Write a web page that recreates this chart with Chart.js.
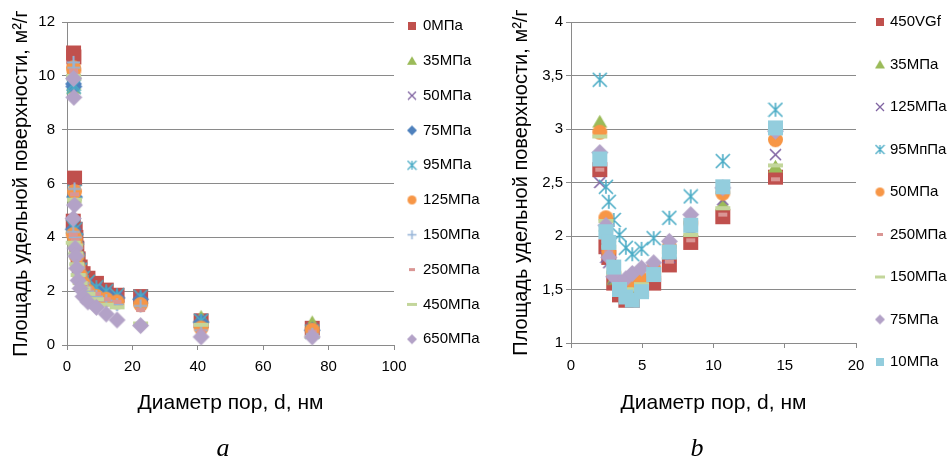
<!DOCTYPE html>
<html>
<head>
<meta charset="utf-8">
<script src="https://cdn.jsdelivr.net/npm/chart.js@4.4.1/dist/chart.umd.min.js"></script>
<style>
  body { margin: 0; background: #fff; width: 951px; height: 458px; overflow: hidden; position: relative; }
  canvas { position: absolute; top: 0; }
  #chartA { left: 0; }
  #chartB { left: 480px; }
  .letter { position: absolute; top: 433px; width: 40px; margin-left: -20px; text-align: center;
            font: italic 26px 'Liberation Serif', 'DejaVu Serif', serif; line-height: 30px; color: #000; }
</style>
</head>
<body>
<canvas id="chartA" width="490" height="458"></canvas>
<canvas id="chartB" width="471" height="458"></canvas>
<div class="letter" style="left:223px">a</div>
<div class="letter" style="left:697px">b</div>
<script>
// ---- рисунок a: данные ----
const diamA = [2.0, 2.1, 2.3, 1.9, 2.5, 2.7, 3.0, 3.4, 4.0, 4.9, 6.4, 9.0, 12.0, 15.3, 22.5, 41, 75];
const namesA = ['0МПа', '35МПа', '50МПа', '75МПа', '95МПа', '125МПа', '150МПа', '250МПа', '450МПа', '650МПа'];
const a0   = [10.85, 10.7, 6.2, 4.6, 4.3, 4.0, 3.6, 3.2, 2.9, 2.65, 2.48, 2.29, 2.04, 1.85, 1.8, 0.9, 0.62];
const a35  = [9.55, 9.7, 5.5, 4.4, 4.1, 3.8, 3.4, 3.0, 2.7, 2.4, 2.2, 2.0, 1.85, 1.7, 1.7, 1.05, 0.85];
const a50  = [9.8, 9.7, 5.6, 4.5, 4.2, 3.9, 3.5, 3.1, 2.8, 2.5, 2.3, 2.1, 1.95, 1.8, 1.75, 0.95, 0.6];
const a75  = [9.7, 9.6, 5.5, 4.3, 4.1, 3.8, 3.4, 3.0, 2.7, 2.4, 2.2, 2.0, 1.9, 1.75, 1.7, 0.85, 0.55];
const a95  = [9.7, 9.6, 5.7, 4.4, 4.3, 3.9, 3.5, 3.1, 2.8, 2.5, 2.35, 2.15, 2.0, 1.85, 1.8, 0.9, 0.5];
const a125 = [10.3, 10.2, 5.7, 4.1, 3.95, 3.7, 3.3, 2.9, 2.6, 2.3, 2.0, 1.8, 1.7, 1.6, 1.5, 0.63, 0.55];
const a150 = [10.5, 10.3, 5.8, 4.2, 4.0, 3.7, 3.3, 2.9, 2.6, 2.3, 2.0, 1.8, 1.65, 1.5, 1.45, 0.55, 0.4];
const a250 = [10.2, 10.1, 5.6, 4.1, 3.9, 3.6, 3.2, 2.8, 2.5, 2.3, 2.1, 1.9, 1.7, 1.6, 1.3, 0.5, 0.5];
const a450 = [10.0, 9.9, 5.4, 3.8, 3.7, 3.4, 3.0, 2.6, 2.3, 2.1, 1.9, 1.7, 1.5, 1.4, 0.8, 0.75, 0.3];
const a650 = [9.9, 9.2, 5.2, 4.7, 3.6, 3.3, 2.85, 2.4, 2.1, 1.8, 1.6, 1.4, 1.15, 0.93, 0.72, 0.3, 0.3];
const xTicksA = ['0', '20', '40', '60', '80', '100'];
const yTicksA = ['0', '2', '4', '6', '8', '10', '12'];

// ---- рисунок b: данные ----
const diamB = [2.02, 2.45, 2.65, 3.0, 3.4, 3.85, 4.3, 4.95, 5.8, 6.9, 8.4, 10.65, 14.35];
const namesB = ['450VGf', '35МПа', '125МПа', '95МпПа', '50МПа', '250МПа', '150МПа', '75МПа', '10МПа'];
const b450v = [2.62, 1.9, 1.8, 1.56, 1.45, 1.4, 1.4, 1.5, 1.56, 1.73, 1.94, 2.18, 2.55];
const b35   = [3.07, 2.1, 2.0, 1.6, 1.55, 1.5, 1.5, 1.55, 1.65, 1.85, 2.05, 2.3, 2.65];
const b125  = [2.5, 1.8, 1.75, 1.6, 1.55, 1.5, 1.5, 1.55, 1.65, 1.8, 2.05, 2.34, 2.76];
const b95   = [3.46, 2.46, 2.32, 2.15, 2.01, 1.89, 1.83, 1.88, 1.98, 2.17, 2.37, 2.7, 3.18];
const b50   = [2.97, 2.17, 1.85, 1.65, 1.55, 1.5, 1.55, 1.6, 1.7, 1.9, 2.12, 2.4, 2.9];
const b250  = [2.62, 1.95, 1.85, 1.6, 1.5, 1.45, 1.45, 1.5, 1.6, 1.76, 1.96, 2.2, 2.53];
const b150  = [2.93, 2.14, 1.9, 1.65, 1.55, 1.5, 1.5, 1.55, 1.65, 1.85, 2.01, 2.26, 2.66];
const b75   = [2.78, 2.1, 1.8, 1.62, 1.58, 1.6, 1.65, 1.7, 1.75, 1.95, 2.2, 2.45, 2.98];
const b10   = [2.72, 2.04, 1.94, 1.71, 1.5, 1.43, 1.4, 1.48, 1.64, 1.85, 2.1, 2.46, 3.01];
const xTicksB = ['0', '5', '10', '15', '20'];
const yTicksB = ['1', '1,5', '2', '2,5', '3', '3,5', '4'];

// ---- стили маркеров (как в Excel) ----
const colorsA = ['#C0504D', '#9BBB59', '#8064A2', '#4F81BD', '#4BACC6', '#F79646', '#95B3D7', '#DA9694', '#C3D69B', '#B3A2C7'];
const shapesA = ['square', 'triangle', 'x', 'diamond', 'star', 'circle', 'plus', 'dash', 'longdash', 'diamond'];
const colorsB = ['#C0504D', '#9BBB59', '#8064A2', '#4BACC6', '#F79646', '#DA9694', '#C3D69B', '#B3A2C7', '#93CDDD'];
const shapesB = ['square', 'triangle', 'x', 'star', 'circle', 'dash', 'longdash', 'diamond', 'square'];

const bigSize = { square: [15], triangle: [15], x: [11], diamond: [17], star: [14], circle: [15], plus: [13], dash: [9, 4], longdash: [15, 4] };
const smallSize = { square: [8], triangle: [10], x: [8], diamond: [10], star: [9], circle: [9], plus: [9], dash: [6, 3], longdash: [10, 3] };

function makeMark(shape, color, w, h) {
  h = h || w;
  const c = document.createElement('canvas');
  c.width = Math.ceil(w) + 2;
  c.height = Math.ceil(h) + 2;
  const g = c.getContext('2d');
  const cx = c.width / 2, cy = c.height / 2, r = w / 2;
  g.fillStyle = color;
  g.strokeStyle = color;
  g.lineWidth = w > 10 ? 1.6 : 1.3;
  g.beginPath();
  if (shape === 'square') {
    g.fillRect(cx - r, cy - r, w, w);
  } else if (shape === 'dash' || shape === 'longdash') {
    g.fillRect(cx - w / 2, cy - h / 2, w, h);
  } else if (shape === 'circle') {
    g.arc(cx, cy, r, 0, Math.PI * 2);
    g.fill();
  } else if (shape === 'triangle') {
    g.moveTo(cx, cy - r * 0.9);
    g.lineTo(cx + r, cy + r * 0.8);
    g.lineTo(cx - r, cy + r * 0.8);
    g.closePath();
    g.fill();
  } else if (shape === 'diamond') {
    g.moveTo(cx, cy - r);
    g.lineTo(cx + r, cy);
    g.lineTo(cx, cy + r);
    g.lineTo(cx - r, cy);
    g.closePath();
    g.fill();
  } else if (shape === 'x' || shape === 'star') {
    g.moveTo(cx - r, cy - r); g.lineTo(cx + r, cy + r);
    g.moveTo(cx + r, cy - r); g.lineTo(cx - r, cy + r);
    if (shape === 'star') { g.moveTo(cx, cy - r); g.lineTo(cx, cy + r); }
    g.stroke();
  } else if (shape === 'plus') {
    g.lineWidth = w > 10 ? 2 : 1.5;
    g.moveTo(cx - r, cy); g.lineTo(cx + r, cy);
    g.moveTo(cx, cy - r); g.lineTo(cx, cy + r);
    g.stroke();
  }
  return c;
}

function buildSets(xs, values, names, colors, shapes) {
  return values.map((vals, i) => ({
    label: names[i],
    data: xs.map((x, j) => ({ x: x, y: vals[j] })),
    pointStyle: makeMark(shapes[i], colors[i], ...bigSize[shapes[i]]),
    pointRadius: 6,
    pointHoverRadius: 6,
    backgroundColor: colors[i],
    borderColor: colors[i],
    showLine: false,
    clip: false,
    order: values.length - i   // последний ряд рисуется поверх, как в Excel
  }));
}

const fontFamily = "'Liberation Sans', Arial, sans-serif";
const gridColor = '#8a8a8a';
const tickFont = { family: fontFamily, size: 15 };
const xTitleFont = { family: fontFamily, size: 21 };
const yTitleFont = { family: fontFamily, size: 20 };

function makeChart(canvasId, cfg) {
  const marks = cfg.shapes.map((s, i) => makeMark(s, cfg.colors[i], ...smallSize[s]));
  return new Chart(document.getElementById(canvasId), {
    type: 'scatter',
    data: { datasets: buildSets(cfg.xs, cfg.values, cfg.names, cfg.colors, cfg.shapes) },
    options: {
      responsive: false,
      animation: false,
      devicePixelRatio: 1,
      layout: { padding: { left: 0, top: cfg.padTop, right: cfg.padRight, bottom: 38 } },
      plugins: {
        tooltip: { enabled: false },
        // пустой заголовок только задаёт отступ области построения сверху
        title: { display: true, text: '', font: { size: 1, lineHeight: '1px' }, padding: { top: cfg.spacer - 1, bottom: 0 } },
        legend: {
          position: 'right',
          align: 'start',
          maxWidth: cfg.legendW,
          labels: {
            usePointStyle: true,
            pointStyleWidth: cfg.boxW,
            padding: cfg.legendPad,
            color: '#000',
            font: { family: fontFamily, size: 15, lineHeight: cfg.legendLine + 'px' },
            sort: (p, q) => p.datasetIndex - q.datasetIndex,
            generateLabels(chart) {
              const items = Chart.defaults.plugins.legend.labels.generateLabels(chart);
              items.forEach(it => {
                it.text = [it.text];
                it.pointStyle = marks[it.datasetIndex];
              });
              return items;
            }
          }
        }
      },
      scales: {
        x: {
          type: 'linear',
          min: cfg.xMin, max: cfg.xMax,
          ticks: { stepSize: cfg.xStep, padding: cfg.xTickPad, color: '#000', font: tickFont,
                   maxRotation: 0, autoSkip: false, callback: (v, i) => cfg.xTicks[i] },
          grid: { drawOnChartArea: false, drawTicks: true, tickLength: 5, color: gridColor },
          border: { display: true, color: gridColor, width: 1 },
          title: { display: true, text: 'Диаметр пор, d, нм', color: '#000', font: xTitleFont, padding: { top: 0, bottom: 4 } },
          afterFit: s => { s.height = cfg.xHeight; }
        },
        y: {
          min: cfg.yMin, max: cfg.yMax,
          ticks: { stepSize: cfg.yStep, padding: cfg.yTickPad, color: '#000', font: tickFont,
                   callback: (v, i) => cfg.yTicks[i] },
          grid: { drawTicks: true, tickLength: 5, color: gridColor },
          border: { display: true, color: gridColor, width: 1 },
          title: { display: true, text: 'Площадь удельной поверхности, м²/г', color: '#000', font: yTitleFont,
                   padding: { top: cfg.yTitlePad, bottom: 0 } },
          afterFit: s => { s.width = cfg.yWidth; }
        }
      }
    }
  });
}

makeChart('chartA', {
  xs: diamA, values: [a0, a35, a50, a75, a95, a125, a150, a250, a450, a650],
  names: namesA, colors: colorsA, shapes: shapesA,
  xMin: 0, xMax: 100, xStep: 20, xTicks: xTicksA,
  yMin: 0, yMax: 12, yStep: 2, yTicks: yTicksA,
  padTop: 4, spacer: 18, padRight: 8, legendW: 88,
  boxW: 7, legendPad: 14.5, legendLine: 20.3,
  xHeight: 75, xTickPad: 8, yWidth: 67, yTickPad: 7, yTitlePad: 9
});

makeChart('chartB', {
  xs: diamB, values: [b450v, b35, b125, b95, b50, b250, b150, b75, b10],
  names: namesB, colors: colorsB, shapes: shapesB,
  xMin: 0, xMax: 20, xStep: 5, xTicks: xTicksB,
  yMin: 1, yMax: 4, yStep: 0.5, yTicks: yTicksB,
  padTop: -7, spacer: 29, padRight: 1, legendW: 94,
  boxW: 5, legendPad: 21.5, legendLine: 21,
  xHeight: 77, xTickPad: 9, yWidth: 91, yTickPad: 3, yTitlePad: 29
});
</script>
</body>
</html>
